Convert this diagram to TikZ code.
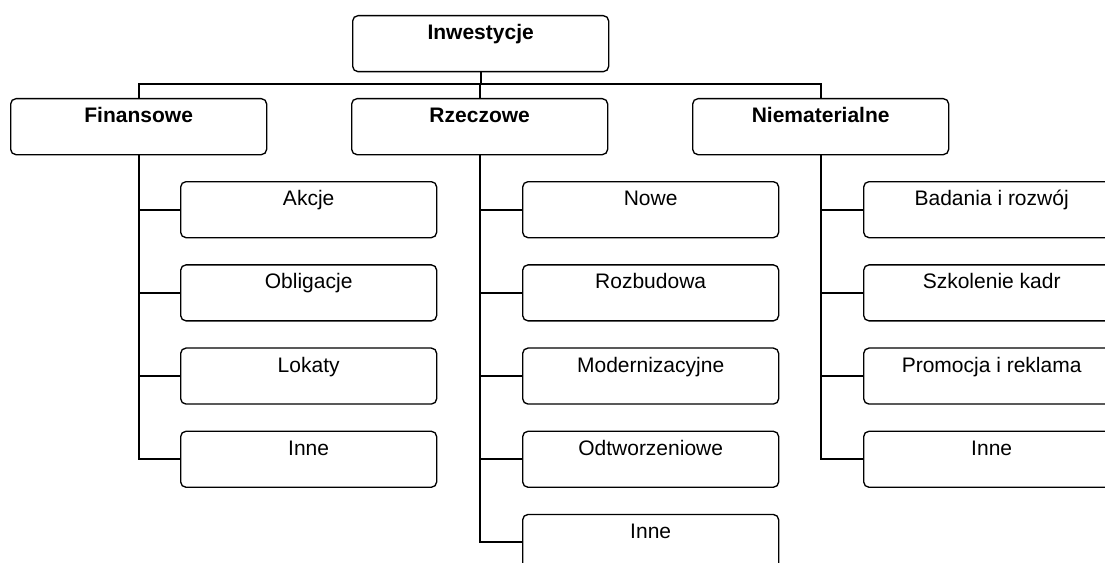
\documentclass[tikz,border=0pt]{standalone}
\usepackage{fontspec}
\setmainfont{Liberation Sans}
\usetikzlibrary{positioning}

\begin{document}
\begin{tikzpicture}[x=0.75pt,y=-0.75pt,
  box/.style={draw,line width=1pt,rounded corners=4pt,anchor=north west,
    minimum width=192pt,inner ysep=0pt,text height=18pt,text depth=24pt,
    font=\fontsize{15.75}{19}\selectfont},
  head/.style={box,font=\fontsize{15.75}{19}\selectfont\bfseries},
  link/.style={draw,line width=1.5pt}]

  \useasboundingbox (0,0) rectangle (1105,563);
  \clip (0,0) rectangle (1105,563);

  % top and second level
  \node [head] (I) at (352,15) {Inwestycje};
  \node [head] (F) at (10,98)  {Finansowe};
  \node [head] (R) at (351,98) {Rzeczowe};
  \node [head] (N) at (692,98) {Niematerialne};

  % Finansowe
  \node [box] (F_1) at (180,181) {Akcje};
  \node [box,below=19.4pt of F_1] (F_2) {Obligacje};
  \node [box,below=19.4pt of F_2] (F_3) {Lokaty};
  \node [box,below=19.4pt of F_3] (F_4) {Inne};

  % Rzeczowe
  \node [box] (R_1) at (522,181) {Nowe};
  \node [box,below=19.4pt of R_1] (R_2) {Rozbudowa};
  \node [box,below=19.4pt of R_2] (R_3) {Modernizacyjne};
  \node [box,below=19.4pt of R_3] (R_4) {Odtworzeniowe};
  \node [box,below=19.4pt of R_4] (R_5) {Inne};

  % Niematerialne
  \node [box] (N_1) at (863,181) {Badania i rozwój};
  \node [box,below=19.4pt of N_1] (N_2) {Szkolenie kadr};
  \node [box,below=19.4pt of N_2] (N_3) {Promocja i reklama};
  \node [box,below=19.4pt of N_3] (N_4) {Inne};

  \coordinate (bus) at (480,84);

  \path [link]
    (I) -- (I |- bus)
    (F) -- (F |- bus) -- (N |- bus) -- (N)
    (R) -- (R |- bus);

  \path [link]
    (F) -- (F |- F_4) -- (F_4)
    (F |- F_1) edge (F_1)
    (F |- F_2) edge (F_2)
    (F |- F_3) edge (F_3);

  \path [link]
    (R) -- (R |- R_5) -- (R_5)
    (R |- R_1) edge (R_1)
    (R |- R_2) edge (R_2)
    (R |- R_3) edge (R_3)
    (R |- R_4) edge (R_4);

  \path [link]
    (N) -- (N |- N_4) -- (N_4)
    (N |- N_1) edge (N_1)
    (N |- N_2) edge (N_2)
    (N |- N_3) edge (N_3);

\end{tikzpicture}
\end{document}
